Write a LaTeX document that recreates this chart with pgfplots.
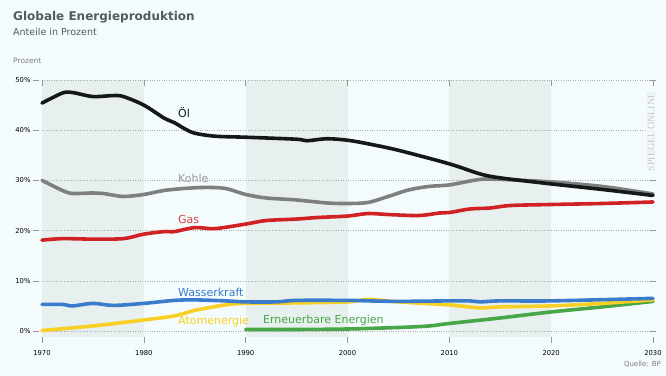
\documentclass[border=0pt]{standalone}
\usepackage{pgfplots}
\pgfplotsset{compat=1.18}
\usepackage{fontspec}
\setmainfont{DejaVu Sans}
\newfontfamily\wmfont{Liberation Serif}
\definecolor{bgc}{HTML}{F4FBFC}
\definecolor{band}{HTML}{E7EFEF}
\definecolor{oil}{HTML}{141818}
\definecolor{coal}{HTML}{7E8080}
\definecolor{gas}{HTML}{D02224}
\definecolor{hydro}{HTML}{3A7CCB}
\definecolor{nuc}{HTML}{F8D025}
\definecolor{ren}{HTML}{48A648}
\definecolor{titlec}{HTML}{555B5B}
\begin{document}
\begin{tikzpicture}
\begin{axis}[name=ax, at={(0,0)}, anchor=south west,
  scale only axis, width=611bp, height=251bp,
  xmin=1970, xmax=2030, ymin=0, ymax=50,
  clip=false, set layers=standard,
  axis line style={draw=none},
  xtick={1970,1980,...,2030}, ytick={0,10,...,50},
  xticklabel={\pgfmathprintnumber[1000 sep=]{\tick}},
  yticklabel={\pgfmathprintnumber{\tick}\%},
  /pgf/number format/assume math mode=true,
  ticklabel style={font=\fontsize{6.8bp}{7bp}\selectfont, text=black},
  tick align=outside, major tick length=6bp,
  xtick style={draw=gray!80, yshift=-6bp, line width=0.5bp},
  ytick style={draw=gray!80, xshift=-3bp, line width=0.5bp},
  xticklabel style={yshift=-10bp},
  yticklabel style={xshift=-2bp},
  ymajorgrids, major grid style={dotted, gray!65, line width=0.45bp},
  every axis plot/.append style={line width=3.6bp, smooth, tension=0.5, line cap=round},
]
\begin{pgfonlayer}{axis background}
\fill[bgc] ([shift={(-42bp,-45bp)}]rel axis cs:0,0) rectangle ([shift={(624bp,331bp)}]rel axis cs:0,0);
\fill[band] (axis cs:1970,-1.2) rectangle (axis cs:1980,50);
\fill[band] (axis cs:1990,-1.2) rectangle (axis cs:2000,50);
\fill[band] (axis cs:2010,-1.2) rectangle (axis cs:2020,50);
\end{pgfonlayer}
% Erneuerbare
\addplot[ren] coordinates {(1990,0.3) (1995,0.3) (2000,0.4) (2005,0.7) (2008,1.0) (2010,1.5) (2015,2.6) (2020,3.8) (2025,4.8) (2030,5.9)};
% Atom
\addplot[nuc] coordinates {(1970,0.1) (1975,1.0) (1978,1.7) (1980,2.2) (1983,3.0) (1985,4.1) (1988,5.2) (1990,5.5) (1995,5.6) (2000,5.8) (2002,6.3) (2005,5.8) (2010,5.2) (2013,4.6) (2015,4.8) (2020,5.0) (2025,5.5) (2030,6.2)};
% Wasserkraft
\addplot[hydro] coordinates {(1970,5.3) (1972,5.3) (1973,5.0) (1975,5.5) (1977,5.1) (1980,5.5) (1983,6.1) (1985,6.2) (1988,6.0) (1990,5.8) (1993,5.8) (1995,6.1) (2000,6.1) (2002,6.0) (2005,5.9) (2010,6.0) (2012,6.0) (2013,5.8) (2015,6.0) (2020,6.0) (2030,6.5)};
% Gas
\addplot[gas] coordinates {(1970,18.1) (1972,18.4) (1975,18.3) (1978,18.4) (1980,19.3) (1982,19.8) (1983,19.8) (1985,20.6) (1987,20.4) (1990,21.3) (1992,22.0) (1995,22.3) (1997,22.6) (2000,22.9) (2002,23.4) (2004,23.2) (2007,23.0) (2009,23.5) (2010,23.6) (2012,24.3) (2014,24.5) (2016,25.0) (2020,25.2) (2025,25.4) (2030,25.7)};
% Kohle
\addplot[coal] coordinates {(1970,30.0) (1972,28.0) (1973,27.4) (1975,27.5) (1976,27.4) (1978,26.8) (1980,27.2) (1982,28.0) (1984,28.4) (1986,28.6) (1988,28.4) (1990,27.2) (1992,26.5) (1995,26.1) (1998,25.5) (2000,25.4) (2002,25.6) (2004,26.8) (2006,28.1) (2008,28.8) (2010,29.1) (2013,30.2) (2015,30.2) (2020,29.7) (2025,28.8) (2030,27.3)};
% Oel
\addplot[oil] coordinates {(1970,45.4) (1972,47.4) (1973,47.5) (1975,46.7) (1977,46.9) (1978,46.7) (1980,45.0) (1982,42.4) (1983,41.5) (1984,40.3) (1985,39.4) (1987,38.8) (1990,38.6) (1995,38.2) (1996,37.9) (1998,38.3) (2000,38.0) (2002,37.3) (2005,36.0) (2010,33.3) (2013,31.3) (2015,30.5) (2020,29.3) (2025,28.2) (2030,27.0)};
\end{axis}
\begin{scope}[every node/.style={inner sep=0pt, anchor=west}]
\node[text=oil, font=\fontsize{11bp}{13bp}\selectfont] at (136bp,218bp) {Öl};
\node[text=coal!80, font=\fontsize{11bp}{13bp}\selectfont] at (136bp,153bp) {Kohle};
\node[text=gas!85, font=\fontsize{11bp}{13bp}\selectfont] at (136bp,112bp) {Gas};
\node[text=hydro, font=\fontsize{11bp}{13bp}\selectfont] at (136bp,39bp) {Wasserkraft};
\node[text=nuc, font=\fontsize{11bp}{13bp}\selectfont] at (136bp,10bp) {Atomenergie};
\node[text=ren, font=\fontsize{11bp}{13bp}\selectfont] at (221bp,11bp) {Erneuerbare Energien};
\node[text=titlec, font=\bfseries\fontsize{12bp}{14bp}\selectfont] at (-29bp,314bp) {Globale Energieproduktion};
\node[text=titlec, font=\fontsize{9.5bp}{11bp}\selectfont] at (-29bp,299bp) {Anteile in Prozent};
\node[text=gray, font=\fontsize{7.5bp}{9bp}\selectfont] at (-29bp,270bp) {Prozent};
\node[anchor=east, text=gray, font=\fontsize{7bp}{8bp}\selectfont] at (619bp,-33bp) {Quelle: BP};
\node[anchor=center, rotate=90, fill=bgc, inner sep=2bp, text=gray!45, font=\wmfont\fontsize{10bp}{12bp}\selectfont] at (609bp,199bp) {SPIEGEL\,ONLINE};
\end{scope}
\end{tikzpicture}
\end{document}
